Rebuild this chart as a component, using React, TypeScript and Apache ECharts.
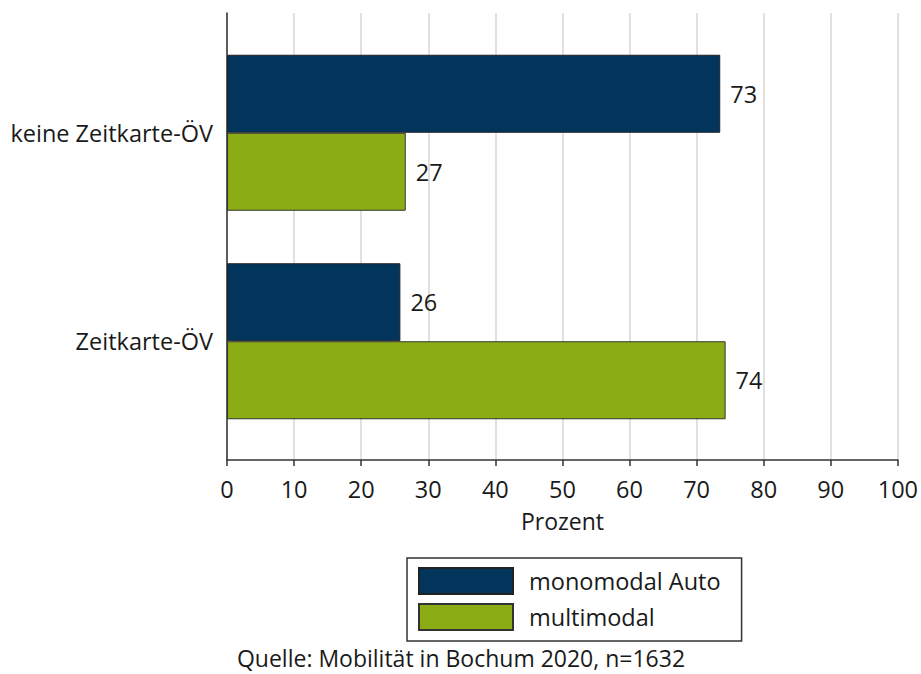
import React, { useEffect, useRef } from "react";
import * as echarts from "echarts";

const categories = ["keine Zeitkarte-ÖV", "Zeitkarte-ÖV"];
const monomodalAuto = [73.4, 25.8];
const multimodal = [26.6, 74.2];
const seriesNames = ["monomodal Auto", "multimodal"];
const xTicks = { min: 0, max: 100, interval: 10 };
const sourceNote = "Quelle: Mobilität in Bochum 2020, n=1632";

const FONT = "'Open Sans', 'Noto Sans', sans-serif";
const NAVY = "#01355c";
const GREEN = "#8bac14";
const TXT = "#1a1a1a";
const FS = 23.5;

export default function App() {
  const ref = useRef<HTMLDivElement>(null);
  useEffect(() => {
    if (!ref.current) return;
    const chart = echarts.init(ref.current, undefined, { renderer: "svg" });
    const barLabel = {
      show: true,
      position: "right",
      distance: 10,
      fontFamily: FONT,
      fontSize: FS,
      color: TXT,
      formatter: (p: any) => String(Math.round(p.value)),
    };
    chart.setOption({
      animation: false,
      backgroundColor: "#ffffff",
      textStyle: { fontFamily: FONT },
      title: {
        text: sourceNote,
        left: 461,
        textAlign: "center",
        top: 646,
        padding: 0,
        textStyle: { fontFamily: FONT, fontSize: 23, lineHeight: 24, fontWeight: "normal", color: TXT },
      },
      legend: {
        orient: "vertical",
        left: 407,
        top: 558,
        data: seriesNames,
        itemWidth: 94,
        itemHeight: 26,
        itemGap: 8,
        padding: [9, 21, 10, 11],
        borderColor: "#333",
        borderWidth: 1.5,
        icon: "rect",
        selectedMode: false,
        textStyle: { fontFamily: FONT, fontSize: FS, color: TXT, padding: [0, 0, 0, 11] },
      },
      grid: [
        { left: 227, right: 22, top: 13, bottom: 214, containLabel: false },
        { left: 227, right: 22, top: 28.5, height: 417, containLabel: false },
      ],
      xAxis: [
        {
          type: "value",
          gridIndex: 0,
          min: xTicks.min,
          max: xTicks.max,
          interval: xTicks.interval,
          name: "Prozent",
          nameLocation: "middle",
          nameGap: 49,
          nameTextStyle: { fontFamily: FONT, fontSize: 23, color: TXT },
          axisLine: { show: true, lineStyle: { color: "#333", width: 1.5 } },
          axisTick: { show: true, length: 6, lineStyle: { color: "#333", width: 1.5 } },
          axisLabel: { fontFamily: FONT, fontSize: FS, color: TXT, margin: 17 },
          splitLine: { show: true, lineStyle: { color: "#e0e0e0", width: 2 } },
        },
        {
          type: "value",
          gridIndex: 1,
          min: xTicks.min,
          max: xTicks.max,
          interval: xTicks.interval,
          show: false,
        },
      ],
      yAxis: [
        {
          type: "category",
          gridIndex: 0,
          data: ["", ""],
          axisLine: { show: true, lineStyle: { color: "#333", width: 1.5 } },
          axisTick: { show: false },
          axisLabel: { show: false },
          splitLine: { show: false },
        },
        {
          type: "category",
          gridIndex: 1,
          data: categories,
          inverse: true,
          axisLine: { show: false },
          axisTick: { show: false },
          axisLabel: { fontFamily: FONT, fontSize: FS, color: TXT, margin: 14 },
          splitLine: { show: false },
        },
      ],
      series: [
        {
          name: seriesNames[0],
          type: "bar",
          xAxisIndex: 1,
          yAxisIndex: 1,
          data: monomodalAuto,
          barWidth: 78,
          barGap: "0%",
          itemStyle: { color: NAVY, borderColor: "#222", borderWidth: 1 },
          label: barLabel,
        },
        {
          name: seriesNames[1],
          type: "bar",
          xAxisIndex: 1,
          yAxisIndex: 1,
          data: multimodal,
          barWidth: 78,
          barGap: "0%",
          itemStyle: { color: GREEN, borderColor: "#333", borderWidth: 1 },
          label: barLabel,
        },
      ],
    });
    return () => chart.dispose();
  }, []);
  return <div ref={ref} style={{ width: 921, height: 674, position: "absolute", left: 0, top: 0 }} />;
}
